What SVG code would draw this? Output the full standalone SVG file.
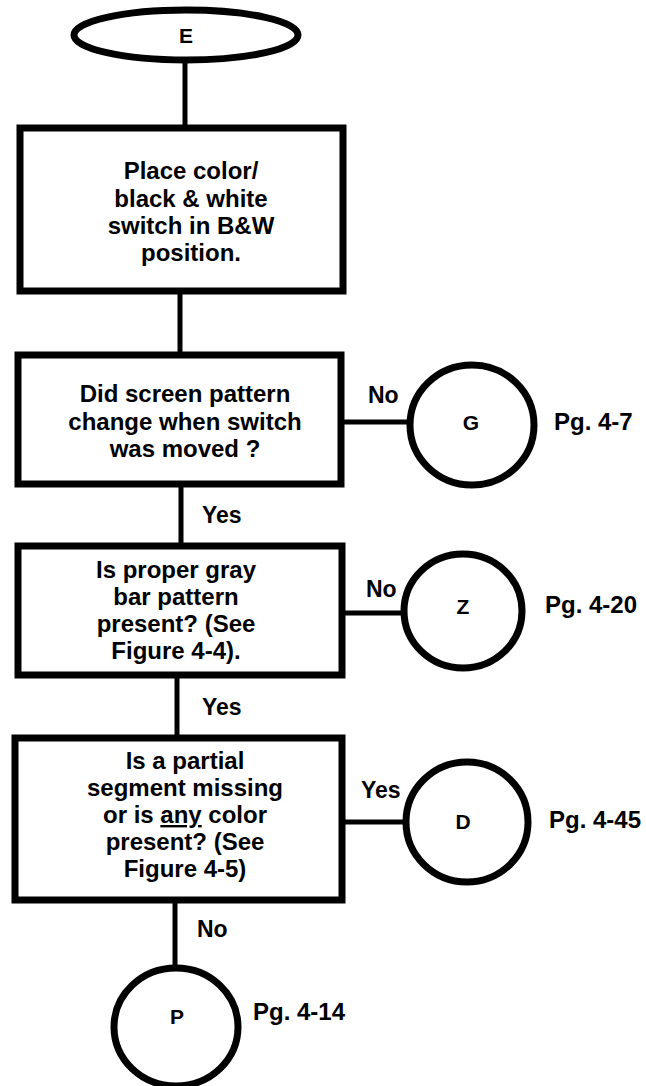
<svg xmlns="http://www.w3.org/2000/svg" width="646" height="1086" viewBox="0 0 646 1086">
<style>
.node{fill:#fff;stroke:#000;stroke-width:7}
.circ{fill:#fff;stroke:#000;stroke-width:7}
.conn{stroke:#000;stroke-width:5;fill:none}
text{font-family:"Liberation Sans",Arial,sans-serif;font-weight:700;fill:#000}
.t{font-size:24px;text-anchor:middle}
.c{font-size:21px;text-anchor:middle}
.l{font-size:23px}
.pg{font-size:24px}
</style>
<rect width="646" height="1086" fill="#fff"/>
<g id="connectors">
<line class="conn" x1="185" y1="60" x2="185" y2="128"/>
<line class="conn" x1="180" y1="291" x2="180" y2="355"/>
<line class="conn" x1="341" y1="422" x2="410" y2="422"/>
<line class="conn" x1="181" y1="484" x2="181" y2="546"/>
<line class="conn" x1="342" y1="613" x2="404" y2="613"/>
<line class="conn" x1="177" y1="675" x2="177" y2="738"/>
<line class="conn" x1="342" y1="822" x2="406" y2="822"/>
<line class="conn" x1="175" y1="900" x2="175" y2="968"/>
<text class="l" x="368" y="403">No</text>
<text class="l" x="202" y="523">Yes</text>
<text class="l" x="366" y="597">No</text>
<text class="l" x="202" y="715">Yes</text>
<text class="l" x="361" y="798">Yes</text>
<text class="l" x="197" y="937">No</text>
</g>
<g id="E">
<ellipse class="circ" cx="186" cy="35" rx="112" ry="25" stroke-width="6"/>
<text class="c" x="186" y="43">E</text>
</g>
<g id="place">
<rect class="node" x="20" y="128" width="323" height="163"/>
<text class="t" x="191" y="179">Place color/</text>
<text class="t" x="191" y="207">black &amp; white</text>
<text class="t" x="191" y="234">switch in B&amp;W</text>
<text class="t" x="191" y="261">position.</text>
</g>
<g id="q1">
<rect class="node" x="18" y="355" width="323" height="129"/>
<text class="t" x="185" y="402">Did screen pattern</text>
<text class="t" x="185" y="430">change when switch</text>
<text class="t" x="185" y="457">was moved ?</text>
</g>
<g id="G">
<ellipse class="circ" cx="472" cy="425" rx="62" ry="60"/>
<text class="c" x="471" y="430">G</text>
<text class="pg" x="554" y="430">Pg. 4-7</text>
</g>
<g id="q2">
<rect class="node" x="18" y="546" width="324" height="129"/>
<text class="t" x="176" y="578">Is proper gray</text>
<text class="t" x="176" y="605">bar pattern</text>
<text class="t" x="176" y="632">present? (See</text>
<text class="t" x="176" y="659">Figure 4-4).</text>
</g>
<g id="Z">
<ellipse class="circ" cx="463" cy="611" rx="59" ry="57"/>
<text class="c" x="463" y="614">Z</text>
<text class="pg" x="545" y="613">Pg. 4-20</text>
</g>
<g id="q3">
<rect class="node" x="15" y="738" width="327" height="162"/>
<text class="t" x="185" y="769">Is a partial</text>
<text class="t" x="185" y="796">segment missing</text>
<text class="t" x="185" y="823">or is <tspan text-decoration="underline">any</tspan> color</text>
<text class="t" x="185" y="850">present? (See</text>
<text class="t" x="185" y="877">Figure 4-5)</text>
</g>
<g id="D">
<ellipse class="circ" cx="467" cy="822" rx="61" ry="60"/>
<text class="c" x="463" y="829">D</text>
<text class="pg" x="549" y="828">Pg. 4-45</text>
</g>
<g id="P">
<ellipse class="circ" cx="176" cy="1027" rx="62" ry="59"/>
<text class="c" x="177" y="1024">P</text>
<text class="pg" x="253" y="1020">Pg. 4-14</text>
</g>
</svg>
